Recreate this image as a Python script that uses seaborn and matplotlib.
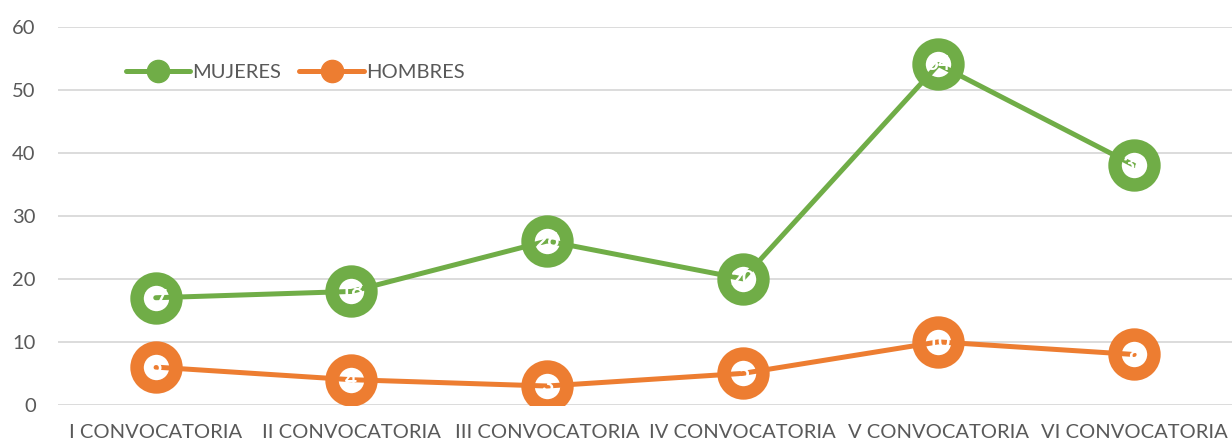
import pandas as pd
import matplotlib
matplotlib.use('Agg')
import matplotlib.pyplot as plt
import seaborn as sns
from matplotlib.lines import Line2D

# Datos
convocatorias = ['I CONVOCATORIA', 'II CONVOCATORIA', 'III CONVOCATORIA',
                 'IV CONVOCATORIA', 'V CONVOCATORIA', 'VI CONVOCATORIA']
mujeres = [17, 18, 26, 20, 54, 38]
hombres = [6, 4, 3, 5, 10, 8]

verde = '#70AD47'
naranja = '#ED7D31'
gris = '#595959'

sns.set_style('white')
plt.rcParams['font.family'] = ['Lato', 'DejaVu Sans']

fig, ax = plt.subplots(figsize=(12.32, 4.44), dpi=100)
fig.subplots_adjust(left=0.047, right=1.0, top=0.94, bottom=0.088)

x = list(range(len(convocatorias)))
for serie, valores, color in [('MUJERES', mujeres, verde), ('HOMBRES', hombres, naranja)]:
    df = pd.DataFrame({'x': x, 'y': valores})
    # marcadores grandes con centro blanco
    ax.scatter(df['x'], df['y'], s=28 ** 2, facecolor='white', edgecolor=color,
               linewidth=9.7, zorder=3)
    sns.lineplot(data=df, x='x', y='y', color=color, linewidth=3.6, ax=ax,
                 sort=False, zorder=4)
    for xi, v in zip(df['x'], df['y']):
        ax.text(xi, v, str(v), color='white', fontsize=15, fontweight='bold',
                ha='center', va='center', zorder=5)

ax.set_xlim(-0.5, len(convocatorias) - 0.5)
ax.set_ylim(0, 60)
ax.set_yticks(range(0, 61, 10))
ax.set_xticks(x)
ax.set_xticklabels(convocatorias)
ax.set_xlabel('')
ax.set_ylabel('')
ax.yaxis.grid(True, color='#D9D9D9', linewidth=1.3)
ax.set_axisbelow(True)
for s in ax.spines.values():
    s.set_visible(False)
ax.tick_params(axis='both', length=0, labelsize=14.5, colors=gris, pad=14)
ax.tick_params(axis='y', pad=16)

handles = [Line2D([0], [0], color=verde, lw=3.6, marker='o', markersize=16),
           Line2D([0], [0], color=naranja, lw=3.6, marker='o', markersize=16)]
ax.legend(handles, ['MUJERES', 'HOMBRES'], loc='center left', ncol=2, frameon=False,
          bbox_to_anchor=(0.058, 0.878), fontsize=14.5, handlelength=3.2,
          handletextpad=0.1, columnspacing=0.9, labelcolor=gris,
          borderpad=0, borderaxespad=0)

fig.savefig('out.png', dpi=100)
